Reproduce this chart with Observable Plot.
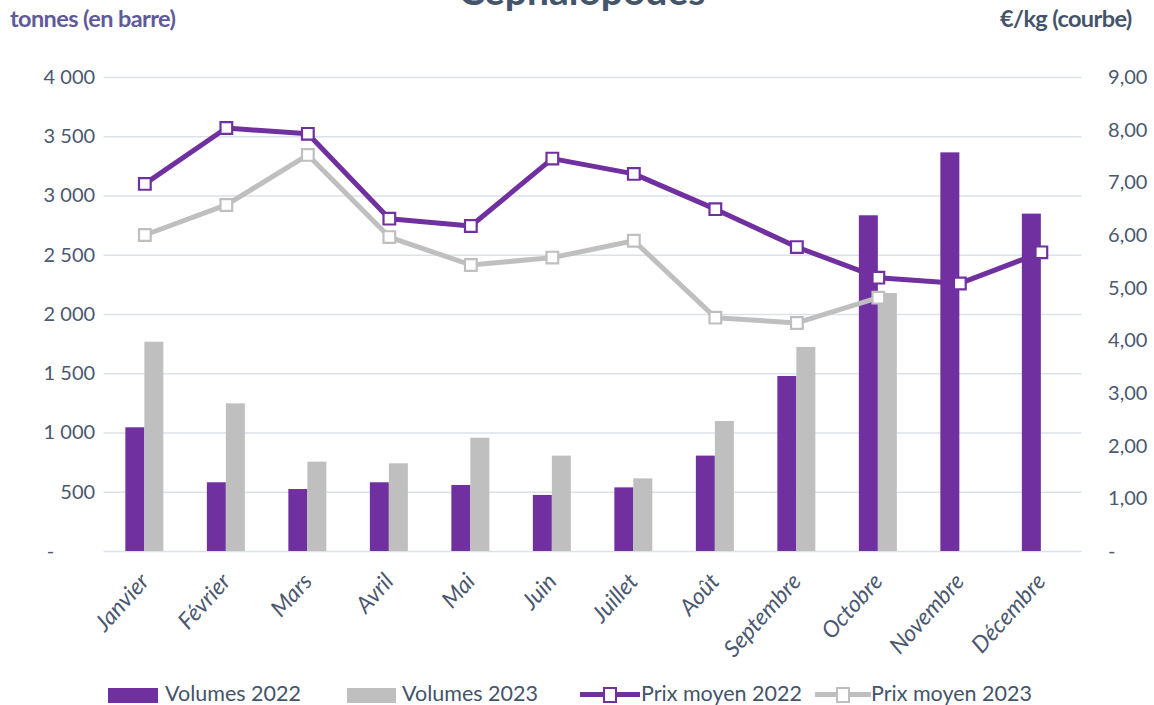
<!DOCTYPE html>
<html><head><meta charset="utf-8">
<script src="https://cdn.jsdelivr.net/npm/d3@7"></script>
<script src="https://cdn.jsdelivr.net/npm/@observablehq/plot@0.6"></script>
<style>
body{margin:0;background:#fff;font-family:Lato,sans-serif;overflow:hidden}
#wrap{position:relative;width:1154px;height:705px;overflow:hidden;background:#fff}
#title{position:absolute;top:-32px;left:0;width:1164px;text-align:center;font-size:39px;font-weight:700;color:#44546A;line-height:44px}
#ylab{position:absolute;left:10px;top:4px;font-size:23.5px;font-weight:700;color:#5F5B9A;letter-spacing:-0.6px}
#y2lab{position:absolute;left:1000px;top:4px;font-size:23.5px;font-weight:700;color:#44546A;letter-spacing:-0.6px}
#chart{position:absolute;left:0;top:0}
.lg{position:absolute;font-size:21.5px;color:#44546A;top:682px;line-height:22px;white-space:nowrap}
.sw{position:absolute}
</style></head><body><div id="wrap">
<div id="title">Céphalopodes</div>
<div id="ylab">tonnes (en barre)</div>
<div id="y2lab">€/kg (courbe)</div>
<div id="chart"></div>
<div id="legend"></div>
</div>
<script>
const months = ["Janvier","Février","Mars","Avril","Mai","Juin","Juillet","Août","Septembre","Octobre","Novembre","Décembre"];
const vol2022 = [1044, 580, 523, 580, 557, 473, 537, 805, 1477, 2833, 3364, 2847];
const vol2023 = [1766, 1246, 754, 740, 956, 805, 613, 1097, 1722, 2177, null, null];
const prix2022 = [6.98, 8.04, 7.93, 6.32, 6.18, 7.46, 7.17, 6.50, 5.78, 5.20, 5.09, 5.68];
const prix2023 = [6.01, 6.58, 7.53, 5.97, 5.44, 5.58, 5.90, 4.44, 4.34, 4.82, null, null];
const volTicks = [0, 500, 1000, 1500, 2000, 2500, 3000, 3500, 4000];
const prixTicks = [0, 1, 2, 3, 4, 5, 6, 7, 8, 9];
const seriesNames = ["Volumes 2022", "Volumes 2023", "Prix moyen 2022", "Prix moyen 2023"];

const PURPLE = "#7030A0", GREY = "#BFBFBF", TXT = "#4B5870";
const VMAX = 4000, PMAX = 9, K = VMAX / PMAX;

const rows = months.map((m, i) => ({month: m, v22: vol2022[i], v23: vol2023[i], p22: prix2022[i], p23: prix2023[i]}));
const loc = d3.formatLocale({decimal: ",", thousands: "\u00a0", grouping: [3], currency: ["", ""]});
const fInt = loc.format(",d"), fDec = loc.format(".2f");
const dash = "-" + "\u00a0".repeat(8);

const chart = Plot.plot({
  width: 1154, height: 705,
  marginTop: 77, marginBottom: 154, marginLeft: 103.6, marginRight: 72.4,
  style: {fontFamily: "Lato, sans-serif", fontSize: "20px", color: TXT, background: "transparent"},
  x: {type: "band", domain: months, paddingInner: 0.767, paddingOuter: 0.3835, round: false, label: null},
  y: {domain: [0, VMAX], label: null},
  marks: [
    Plot.gridY(volTicks, {stroke: "#DCE1EA", strokeOpacity: 1, strokeWidth: 1.3}),
    Plot.barY(rows, {x: "month", y: "v22", fill: PURPLE, dx: -9.5}),
    Plot.barY(rows.filter(d => d.v23 != null), {x: "month", y: "v23", fill: GREY, dx: 9.5}),
    Plot.lineY(rows, {x: "month", y: d => d.p23 == null ? NaN : d.p23 * K, stroke: GREY, strokeWidth: 5}),
    Plot.dot(rows.filter(d => d.p23 != null), {x: "month", y: d => d.p23 * K, symbol: "square", r: 6.6, fill: "white", stroke: GREY, strokeWidth: 2.2}),
    Plot.lineY(rows, {x: "month", y: d => d.p22 * K, stroke: PURPLE, strokeWidth: 5}),
    Plot.dot(rows, {x: "month", y: d => d.p22 * K, symbol: "square", r: 6.6, fill: "white", stroke: PURPLE, strokeWidth: 2.2}),
    Plot.axisY(volTicks, {anchor: "left", tickSize: 0, tickPadding: 9, label: null, fontSize: 20,
      tickFormat: v => v === 0 ? dash : fInt(v)}),
    Plot.axisY(prixTicks.map(p => p * K), {anchor: "right", tickSize: 0, tickPadding: 26, label: null, fontSize: 20,
      tickFormat: v => { const p = Math.round(v / K); return p === 0 ? "-" : fDec(p); }}),
    Plot.axisX({anchor: "bottom", tickSize: 0, tickPadding: 26, tickRotate: -48, label: null, fontSize: 23, fontStyle: "italic"})
  ]
});
document.getElementById("chart").appendChild(chart);

// legend
const lg = document.getElementById("legend");
const items = [
  {name: seriesNames[0], kind: "bar", color: PURPLE, x0: 108, w: 50, tx: 165},
  {name: seriesNames[1], kind: "bar", color: GREY, x0: 347, w: 49, tx: 402},
  {name: seriesNames[2], kind: "line", color: PURPLE, x0: 580, w: 60, tx: 641},
  {name: seriesNames[3], kind: "line", color: GREY, x0: 815, w: 56, tx: 871}
];
items.forEach(it => {
  if (it.kind === "bar") {
    const s = document.createElement("div");
    s.className = "sw";
    Object.assign(s.style, {left: it.x0 + "px", top: "688px", width: it.w + "px", height: "15px", background: it.color});
    lg.appendChild(s);
  } else {
    const s = document.createElement("div");
    s.className = "sw";
    Object.assign(s.style, {left: it.x0 + "px", top: "692px", width: it.w + "px", height: "5px", background: it.color});
    lg.appendChild(s);
    const m = document.createElement("div");
    m.className = "sw";
    Object.assign(m.style, {left: (it.x0 + it.w / 2 - 7) + "px", top: "687px", width: "10px", height: "12px", background: "#fff", border: "2px solid " + it.color});
    lg.appendChild(m);
  }
  const t = document.createElement("div");
  t.className = "lg";
  t.style.left = it.tx + "px";
  t.textContent = it.name;
  lg.appendChild(t);
});
</script>
</body></html>
